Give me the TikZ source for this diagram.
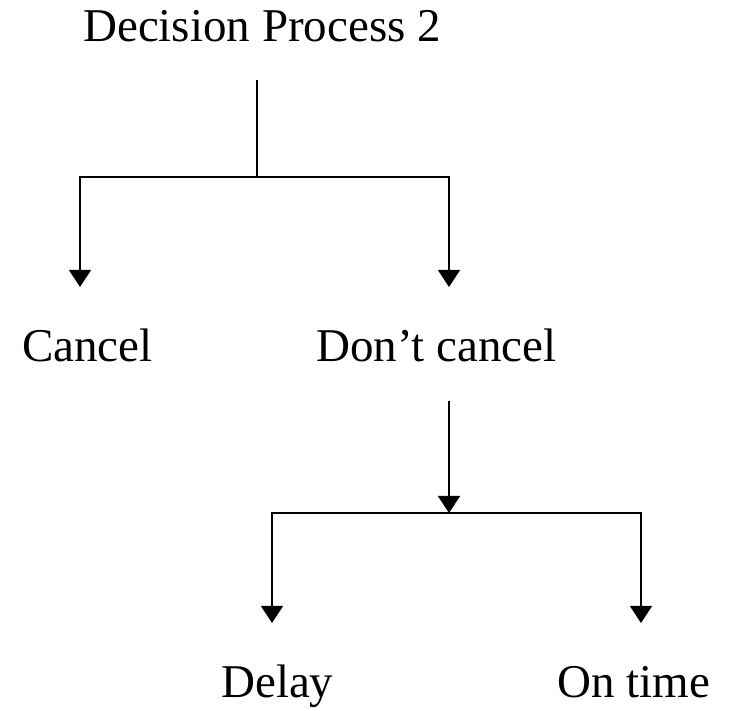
\documentclass[tikz,border=0pt]{standalone}
\usepackage{fontspec}
\setmainfont{Liberation Serif}
\usetikzlibrary{arrows.meta}
\begin{document}
\begin{tikzpicture}[x=1pt,y=-1pt,
  lbl/.style={inner sep=0pt,anchor=base west,font=\fontsize{47}{56}\selectfont},
  conn/.style={line width=1.4pt},
  arr/.style={conn,-{Triangle[length=17pt,width=22pt]}}]
\useasboundingbox (0,0) rectangle (740,711);
% labels
\node[lbl] (title) at (83,42) {Decision Process 2};
\node[lbl] (cancel) at (22,362) {Cancel};
\node[lbl] (dont) at (316,362) {Don’t cancel};
\node[lbl] (delay) at (221,697) {Delay};
\node[lbl] (ontime) at (557,697) {On time};
% junction points
\coordinate (t1) at (257,80);
\coordinate (j1) at (257,177);
\coordinate (c1) at (80,287);
\coordinate (d1) at (449,287);
\coordinate (t2) at (449,401);
\coordinate (j2) at (449,513);
\coordinate (c2) at (272,623);
\coordinate (d2) at (641,623);
% first decision
\draw[conn] (t1) -- (j1);
\draw[arr] (j1) -| (c1);
\draw[arr] (j1) -| (d1);
% second decision
\draw[arr] (t2) -- (j2);
\draw[arr] (j2) -| (c2);
\draw[arr] (j2) -| (d2);
\end{tikzpicture}
\end{document}
